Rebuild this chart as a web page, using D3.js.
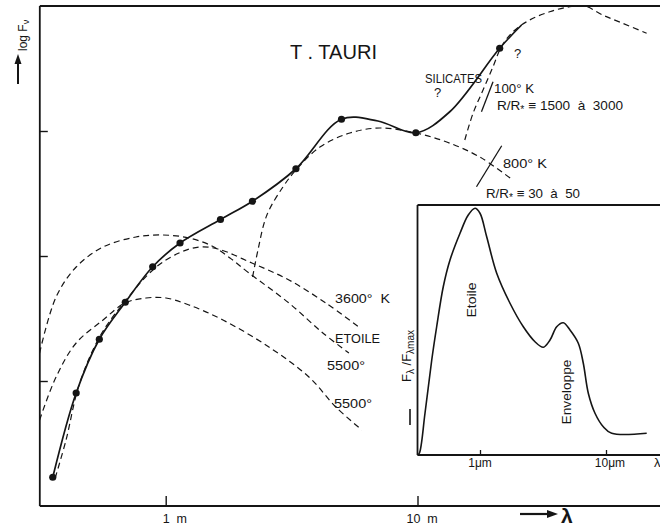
<!DOCTYPE html>
<html><head><meta charset="utf-8">
<script src="https://cdn.jsdelivr.net/npm/d3@7"></script>
<style>
body{margin:0;background:#fff}
svg{display:block}
text{font-family:"Liberation Sans",Arial,Helvetica,sans-serif;fill:#151515}
</style>
</head><body>
<svg id="c" width="660" height="527"></svg>
<script>
// ---- Observed photometry (lambda in micron, log F_nu in decades) ----
const obsLambda = [0.356, 0.441, 0.545, 0.691, 0.888, 1.14, 1.65, 2.21, 3.29, 4.99, 9.85, 21.2];
const obsLogF   = [0.230, 0.904, 1.334, 1.630, 1.914, 2.104, 2.292, 2.438, 2.698, 3.094, 2.986, 3.662];

// ---- Hand-drawn fit through the points ----
const fitLambda = [0.356, 0.441, 0.545, 0.691, 0.888, 1.14, 1.65, 2.21, 3.29, 4.99, 6.96, 9.85, 13.4, 21.2, 25.9];
const fitLogF   = [0.230, 0.904, 1.334, 1.630, 1.914, 2.104, 2.292, 2.438, 2.698, 3.094, 3.080, 2.986, 3.152, 3.662, 3.848];

// ---- Model curves (dashed) ----
const bb3600Lambda = [0.364, 0.402, 0.453, 0.549, 0.696, 0.907, 1.129, 1.356, 1.613, 2.200, 3.086, 4.326, 5.849];
const bb3600LogF   = [0.224, 0.528, 0.968, 1.360, 1.648, 1.904, 2.024, 2.072, 2.056, 1.944, 1.808, 1.624, 1.432];

const etoileLambda = [0.3156, 0.367, 0.441, 0.564, 0.762, 0.976, 1.237, 1.527, 1.800, 2.141, 3.086, 4.209, 5.340];
const etoileLogF   = [1.224, 1.672, 1.912, 2.072, 2.152, 2.168, 2.144, 2.080, 1.984, 1.864, 1.624, 1.384, 1.224];

const bb5500Lambda = [0.3156, 0.367, 0.441, 0.564, 0.689, 0.835, 1.003, 1.237, 1.688, 2.570, 3.705, 4.740, 6.012];
const bb5500LogF   = [0.688, 1.032, 1.304, 1.488, 1.624, 1.664, 1.664, 1.608, 1.488, 1.272, 1.032, 0.792, 0.608];

const env800Lambda = [2.214, 2.325, 2.523, 2.921, 3.290, 4.097, 5.388, 7.085, 9.840, 13.06, 17.67, 23.88];
const env800LogF   = [1.832, 2.048, 2.328, 2.552, 2.688, 2.872, 2.984, 3.024, 2.984, 2.912, 2.792, 2.608];

const env100Lambda = [15.41, 16.62, 18.21, 19.95, 21.54, 23.95, 27.90, 33.50, 40.22, 46.13, 54.37, 65.27, 81.27];
const env100LogF   = [2.928, 3.142, 3.328, 3.514, 3.674, 3.794, 3.888, 3.954, 3.994, 4.000, 3.928, 3.862, 3.782];

// range markers (solid strokes across the envelope curves)
const mark800Lambda = [17.15, 21.60];
const mark800LogF   = [2.554, 2.882];
const mark100Lambda = [17.95, 19.95];
const mark100LogF   = [3.154, 3.394];

// ---- Inset: F_lambda / F_lambda,max ----
const insetLambda = [0.319, 0.330, 0.366, 0.414, 0.453, 0.511, 0.578, 0.694, 0.807, 0.913, 1.0, 1.130, 1.357, 1.730, 2.207, 2.733, 3.180, 3.594, 4.062, 4.583, 5.179, 6.028, 6.604, 7.237, 8.178, 9.519, 11.10, 21.04];
const insetFlux   = [0.0, 0.007, 0.167, 0.380, 0.513, 0.673, 0.780, 0.887, 0.960, 0.987, 0.967, 0.873, 0.727, 0.607, 0.513, 0.453, 0.431, 0.460, 0.513, 0.529, 0.500, 0.447, 0.367, 0.247, 0.167, 0.113, 0.087, 0.087];

// ---- Ticks ----
const xTickValues = [1, 10];
const xTickLabels = ["1  m", "10  m"];
const yTickValues = [1, 2, 3];
const insetTickValues = [1, 10];
const insetTickLabels = ["1μm", "10μm"];

// ================= drawing =================
const ink = "#151515";
const svg = d3.select("#c");
const W = 660;

const x = d3.scaleLog().domain([1, 10]).range([165.7, 417.5]);
const y = d3.scaleLinear().domain([0, 4]).range([506, 6]);
const x0 = x(10 ** -0.5); // left frame

const pairs = (a, b) => d3.zip(a, b);
const smooth = d3.line().x(d => x(d[0])).y(d => y(d[1])).curve(d3.curveCatmullRom.alpha(0.5));
const straight = d3.line().x(d => x(d[0])).y(d => y(d[1]));

// frame
const frame = svg.append("g").attr("stroke", ink).attr("stroke-width", 1.8).attr("fill", "none");
frame.append("line").attr("x1", x0).attr("x2", x0).attr("y1", y(4)).attr("y2", y(0));
frame.append("line").attr("x1", x0).attr("x2", W).attr("y1", y(4)).attr("y2", y(4));
frame.append("line").attr("x1", x0).attr("x2", W).attr("y1", y(0)).attr("y2", y(0));

// main axes ticks (inward)
const xAxis = d3.axisBottom(x).tickValues(xTickValues).tickSizeInner(-10).tickSizeOuter(0).tickFormat("");
const gx = svg.append("g").attr("transform", `translate(0,${y(0)})`).call(xAxis);
gx.select(".domain").remove();
gx.selectAll("line").attr("stroke", ink).attr("stroke-width", 1.4);

const yAxis = d3.axisLeft(y).tickValues(yTickValues).tickSizeInner(-8).tickSizeOuter(0).tickFormat("");
const gy = svg.append("g").attr("transform", `translate(${x0},0)`).call(yAxis);
gy.select(".domain").remove();
gy.selectAll("line").attr("stroke", ink).attr("stroke-width", 1.4);

svg.selectAll("text.xtl").data(xTickValues).join("text").attr("class", "xtl")
  .attr("x", d => x(d) - (d < 5 ? 3 : 11)).attr("y", 523).attr("font-size", 12.5)
  .attr("xml:space", "preserve").style("white-space", "pre")
  .text((d, i) => xTickLabels[i]);

// dashed model curves
const dashed = [
  pairs(bb3600Lambda, bb3600LogF),
  pairs(etoileLambda, etoileLogF),
  pairs(bb5500Lambda, bb5500LogF),
  pairs(env800Lambda, env800LogF),
  pairs(env100Lambda, env100LogF)
];
svg.append("g").selectAll("path").data(dashed).join("path")
  .attr("d", smooth).attr("fill", "none").attr("stroke", ink)
  .attr("stroke-width", 1.2).attr("stroke-dasharray", "6,4");

// markers
svg.append("g").selectAll("path")
  .data([pairs(mark800Lambda, mark800LogF), pairs(mark100Lambda, mark100LogF)])
  .join("path").attr("d", straight).attr("stroke", ink).attr("stroke-width", 1.3).attr("fill", "none");

// solid fit
svg.append("path").datum(pairs(fitLambda, fitLogF)).attr("d", smooth)
  .attr("fill", "none").attr("stroke", ink).attr("stroke-width", 1.7);

// points
svg.append("g").selectAll("circle").data(pairs(obsLambda, obsLogF)).join("circle")
  .attr("cx", d => x(d[0])).attr("cy", d => y(d[1])).attr("r", 3.6).attr("fill", ink);

// annotations
function label(t, px, py, fs, len) {
  const e = svg.append("text").attr("x", px).attr("y", py).attr("font-size", fs).text(t);
  if (len) e.attr("textLength", len).attr("lengthAdjust", "spacingAndGlyphs");
  return e;
}
label("T . TAURI", 290, 59, 20, 87);
label("SILICATES", 425, 83, 13, 57);
label("?", 434, 97, 13);
label("?", 514, 58, 13);
label("100° K", 494, 92.5, 13, 40);
label("800° K", 503, 168, 13, 44);
label("3600°  K", 335, 303, 13, 55).attr("xml:space", "preserve");
label("ETOILE", 335, 343, 13, 45);
label("5500°", 327, 370, 13, 38);
label("5500°", 334, 408, 13, 38);

function rLabel(px, py, nums, len) {
  const t = svg.append("text").attr("x", px).attr("y", py).attr("font-size", 13)
    .attr("textLength", len).attr("lengthAdjust", "spacingAndGlyphs");
  t.append("tspan").text("R/R");
  t.append("tspan").attr("font-size", 10).attr("dy", 3).text("*");
  t.append("tspan").attr("dy", -3).text(" ≡ " + nums);
  t.attr("xml:space", "preserve");
}
rLabel(497, 110, "1500  à  3000", 126);
rLabel(486, 198, "30  à  50", 94);

// x-axis title arrow + lambda
svg.append("path").attr("d", "M520,514 L549,514").attr("stroke", ink).attr("stroke-width", 2.2);
svg.append("path").attr("d", "M558,514 L547,510 L547,518 Z").attr("fill", ink);
label("λ", 561, 523, 21).attr("font-weight", "bold");

// y-axis title
svg.append("path").attr("d", "M18,84 L18,62").attr("stroke", ink).attr("stroke-width", 2);
svg.append("path").attr("d", "M18,54 L14.5,64 L21.5,64 Z").attr("fill", ink);
const yl = svg.append("text").attr("transform", "translate(27,51) rotate(-90)").attr("font-size", 12);
yl.append("tspan").text("log F");
yl.append("tspan").attr("font-size", 9).attr("dy", 2).text("ν");

// ================= inset =================
const ix = d3.scaleLog().domain([1, 10]).range([480, 606]);
const iy = d3.scaleLinear().domain([0, 1]).range([455, 205]);
const ix0 = ix(10 ** -0.496);

const ins = svg.append("g");
ins.append("rect").attr("x", ix0).attr("y", iy(1)).attr("width", W - ix0).attr("height", iy(0) - iy(1)).attr("fill", "#fff");
const iframe = ins.append("g").attr("stroke", ink).attr("stroke-width", 1.8);
iframe.append("line").attr("x1", ix0).attr("x2", ix0).attr("y1", iy(1)).attr("y2", iy(0));
iframe.append("line").attr("x1", ix0).attr("x2", W).attr("y1", iy(1)).attr("y2", iy(1));
iframe.append("line").attr("x1", ix0).attr("x2", W).attr("y1", iy(0)).attr("y2", iy(0));

const ixAxis = d3.axisBottom(ix).tickValues(insetTickValues).tickSizeInner(-5).tickSizeOuter(0).tickFormat("");
const gix = ins.append("g").attr("transform", `translate(0,${iy(0)})`).call(ixAxis);
gix.select(".domain").remove();
gix.selectAll("line").attr("stroke", ink).attr("stroke-width", 1.3);
ins.selectAll("text.itl").data(insetTickValues).join("text").attr("class", "itl")
  .attr("x", d => ix(d) + (d < 5 ? 0 : 4)).attr("y", 467).attr("text-anchor", "middle").attr("font-size", 12)
  .text((d, i) => insetTickLabels[i]);
ins.append("text").attr("x", 654).attr("y", 467).attr("font-size", 13).text("λ");

const iline = d3.line().x(d => ix(d[0])).y(d => iy(d[1])).curve(d3.curveCatmullRom.alpha(0.5));
ins.append("path").datum(d3.zip(insetLambda, insetFlux)).attr("d", iline)
  .attr("fill", "none").attr("stroke", ink).attr("stroke-width", 1.6);

ins.append("text").attr("transform", "translate(476,300) rotate(-90)").attr("text-anchor", "middle")
  .attr("font-size", 12.5).attr("textLength", 35).attr("lengthAdjust", "spacingAndGlyphs").text("Etoile");
ins.append("text").attr("transform", "translate(571,392) rotate(-90)").attr("text-anchor", "middle")
  .attr("font-size", 12.5).attr("textLength", 65).attr("lengthAdjust", "spacingAndGlyphs").text("Enveloppe");

const iyl = ins.append("text").attr("transform", "translate(411,356) rotate(-90)").attr("text-anchor", "middle").attr("font-size", 13);
iyl.append("tspan").text("F");
iyl.append("tspan").attr("font-size", 10).attr("dy", 3).text("λ");
iyl.append("tspan").attr("dy", -3).text(" /F");
iyl.append("tspan").attr("font-size", 10).attr("dy", 3).text("λmax");
ins.append("line").attr("x1", 410).attr("x2", 410).attr("y1", 409).attr("y2", 425).attr("stroke", ink).attr("stroke-width", 1.6);
</script>
</body></html>
